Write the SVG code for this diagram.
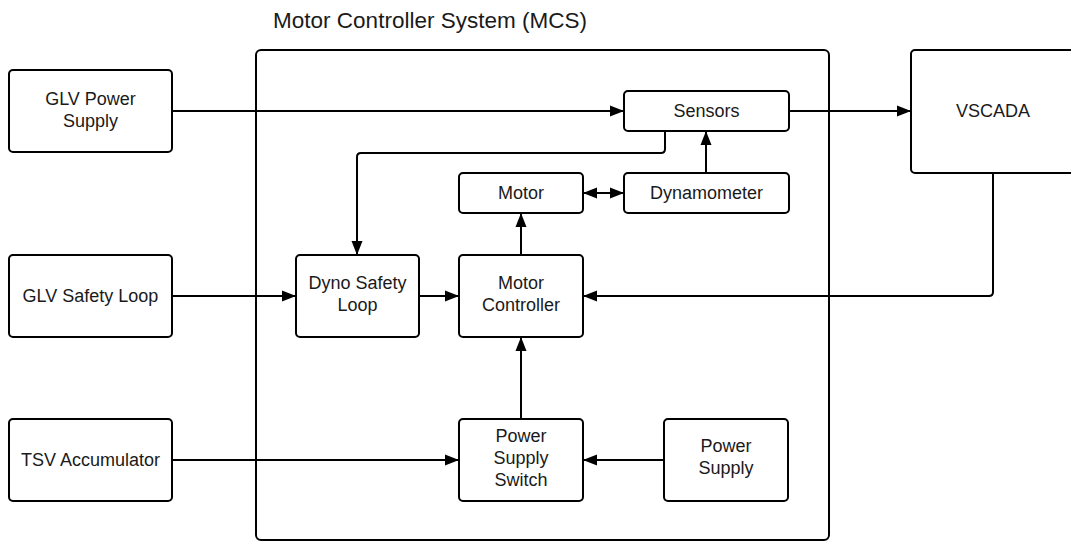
<svg xmlns="http://www.w3.org/2000/svg" width="1071" height="541" viewBox="0 0 1071 541">
<style>
.box{fill:#fff;stroke:#000;stroke-width:2}
.t{font-family:"Liberation Sans",Arial,sans-serif;font-size:18px;fill:#1a1a1a;text-anchor:middle}
.title{font-family:"Liberation Sans",Arial,sans-serif;font-size:22.5px;fill:#1a1a1a;text-anchor:middle}
.c{fill:none;stroke:#000;stroke-width:2}
</style>
<defs>
<marker id="ah" markerUnits="userSpaceOnUse" markerWidth="15" markerHeight="14" refX="14" refY="7" orient="auto">
<path d="M0,1.5 L14,7 L0,12.5 Z" fill="#000"/>
</marker>
<marker id="as" markerUnits="userSpaceOnUse" markerWidth="15" markerHeight="14" refX="0" refY="7" orient="auto">
<path d="M14,1.5 L0,7 L14,12.5 Z" fill="#000"/>
</marker>
</defs>
<rect width="1071" height="541" fill="#fff"/>
<g id="mcs">
<rect class="box" x="256" y="50" width="573" height="490" rx="5"/>
<text class="title" x="430" y="28">Motor Controller System (MCS)</text>
</g>
<g id="connectors">
<path class="c" d="M172,111 H624" marker-end="url(#ah)"/>
<path class="c" d="M789,111 H911" marker-end="url(#ah)"/>
<path class="c" d="M665,131 V149 Q665,153 661,153 H361 Q357,153 357,157 V255" marker-end="url(#ah)"/>
<path class="c" d="M706,173 V131" marker-end="url(#ah)"/>
<path class="c" d="M583,193 H624" marker-start="url(#as)" marker-end="url(#ah)"/>
<path class="c" d="M521,255 V213" marker-end="url(#ah)"/>
<path class="c" d="M172,296 H296" marker-end="url(#ah)"/>
<path class="c" d="M419,296 H459" marker-end="url(#ah)"/>
<path class="c" d="M993,173 V292 Q993,296 989,296 H583" marker-end="url(#ah)"/>
<path class="c" d="M521,419 V337" marker-end="url(#ah)"/>
<path class="c" d="M172,460 H459" marker-end="url(#ah)"/>
<path class="c" d="M664,460 H583" marker-end="url(#ah)"/>
</g>
<g id="glv-power-supply">
<rect class="box" x="9" y="70" width="163" height="82" rx="4"/>
<text class="t" x="90.5" y="105">GLV Power</text>
<text class="t" x="90.5" y="127">Supply</text>
</g>
<g id="glv-safety-loop">
<rect class="box" x="9" y="255" width="163" height="82" rx="4"/>
<text class="t" x="90.5" y="302">GLV Safety Loop</text>
</g>
<g id="tsv-accumulator">
<rect class="box" x="9" y="419" width="163" height="82" rx="4"/>
<text class="t" x="90.5" y="466">TSV Accumulator</text>
</g>
<g id="sensors">
<rect class="box" x="624" y="91" width="165" height="40" rx="4"/>
<text class="t" x="706.5" y="117">Sensors</text>
</g>
<g id="motor">
<rect class="box" x="459" y="173" width="124" height="40" rx="4"/>
<text class="t" x="521" y="199">Motor</text>
</g>
<g id="dynamometer">
<rect class="box" x="624" y="173" width="165" height="40" rx="4"/>
<text class="t" x="706.5" y="199">Dynamometer</text>
</g>
<g id="dyno-safety-loop">
<rect class="box" x="296" y="255" width="123" height="82" rx="4"/>
<text class="t" x="357.5" y="289">Dyno Safety</text>
<text class="t" x="357.5" y="311">Loop</text>
</g>
<g id="motor-controller">
<rect class="box" x="459" y="255" width="124" height="82" rx="4"/>
<text class="t" x="521" y="289">Motor</text>
<text class="t" x="521" y="311">Controller</text>
</g>
<g id="power-supply-switch">
<rect class="box" x="459" y="419" width="124" height="82" rx="4"/>
<text class="t" x="521" y="442">Power</text>
<text class="t" x="521" y="464">Supply</text>
<text class="t" x="521" y="486">Switch</text>
</g>
<g id="power-supply">
<rect class="box" x="664" y="419" width="124" height="82" rx="4"/>
<text class="t" x="726" y="452">Power</text>
<text class="t" x="726" y="474">Supply</text>
</g>
<g id="vscada">
<rect class="box" x="911" y="50" width="166" height="123" rx="4"/>
<text class="t" x="993" y="117">VSCADA</text>
</g>
</svg>
